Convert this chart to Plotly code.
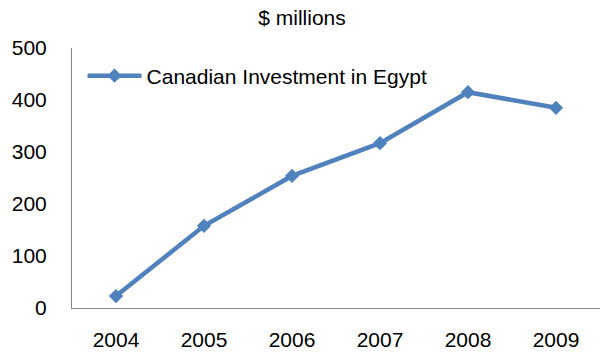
import plotly.graph_objects as go

years = ["2004", "2005", "2006", "2007", "2008", "2009"]
investment = [23, 158, 254, 317, 415, 385]
series_name = "Canadian Investment in Egypt"
y_ticks = [0, 100, 200, 300, 400, 500]

fig = go.Figure()
fig.add_trace(go.Scatter(
    x=years, y=investment, name=series_name, mode="lines+markers",
    line=dict(color="#4F81BD", width=4.5),
    marker=dict(symbol="diamond", size=11, color="#4F81BD"),
    showlegend=True,
))

font = "Liberation Sans, Arial, sans-serif"
fig.update_layout(
    width=604, height=352,
    margin=dict(l=72, r=4, t=48, b=44),
    paper_bgcolor="white", plot_bgcolor="white",
    font=dict(family=font, size=21, color="#000000"),
    title=dict(text="$ millions", x=0.5, xanchor="center", y=1 - 18/352, yanchor="middle",
               font=dict(family=font, size=21, color="#000000")),
    showlegend=True,
    legend=dict(x=0.02, y=1 - (76 - 48) / 260, xanchor="left", yanchor="middle",
                bgcolor="rgba(0,0,0,0)", font=dict(family=font, size=21),
                itemwidth=54),
    xaxis=dict(type="category", range=[-0.5, 5.5], showgrid=False, showline=True,
               linecolor="#868686", linewidth=1, ticks="", ticklabelstandoff=13,
               tickfont=dict(family=font, size=21), zeroline=False, automargin=False),
    yaxis=dict(range=[0, 500], tickvals=y_ticks, showgrid=False, showline=True,
               linecolor="#868686", linewidth=1, ticks="", ticklabelstandoff=20,
               tickfont=dict(family=font, size=21), zeroline=False, automargin=False),
)
fig.write_html("out.html")
